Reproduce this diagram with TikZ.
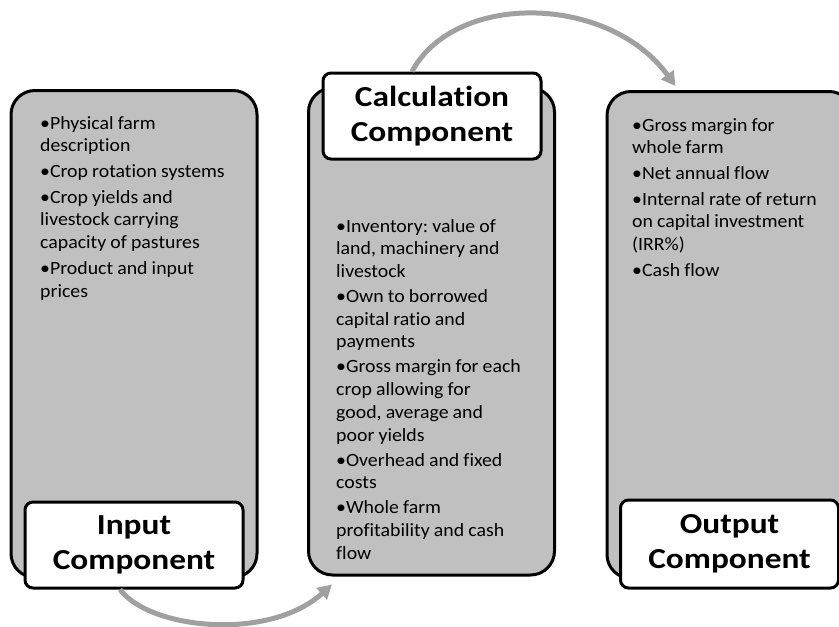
\documentclass[tikz,border=0pt]{standalone}
\usepackage{fontspec}
\setmainfont{Carlito}[FakeStretch=1.06, Ligatures=NoCommon]
\newfontfamily\titlefont{Carlito}[FakeStretch=1.15, Ligatures=NoCommon]
\usetikzlibrary{arrows.meta}
\frenchspacing
\definecolor{boxgray}{RGB}{192,192,192}
\definecolor{arrowgray}{RGB}{160,160,160}
\newlength{\bulw}
\newcommand{\itm}[1]{\settowidth{\bulw}{•}\hangindent=\bulw\hangafter=1 •#1\par}
\newcommand{\tightsp}[1]{\setlength{\parskip}{#1}\spaceskip=0.22em plus 0.1em minus 0.05em\relax}
\tikzset{
  bigbox/.style={draw=black, line width=3pt, fill=boxgray, rounded corners=24pt, minimum width=246pt, minimum height=487pt, inner sep=0pt},
  labbox/.style={draw=black, line width=3pt, fill=white, rounded corners=8pt, minimum width=218pt, minimum height=86pt, inner sep=0pt, align=center, font=\titlefont\fontsize{29}{35}\selectfont\bfseries},
  itemtext/.style={anchor=north west, inner sep=0pt, text width=225pt, align=left, font=\fontsize{18.7}{22.7}\selectfont},
  flow/.style={draw=arrowgray, line width=5pt, -{Triangle[length=14pt,width=15pt]}}
}
\begin{document}
\begin{tikzpicture}[x=1pt,y=-1pt]
\useasboundingbox (0,0) rectangle (839,627);
% big boxes
\node[bigbox] (inbox) at (134,334) {};
\node[bigbox] (calc) at (431.5,331.5) {};
\node[bigbox] (outbox) at (730,335) {};
% item texts
\node[itemtext] (intext) at (40,116) {\tightsp{3pt}%
\itm{Physical farm\\description}
\itm{Crop rotation systems}
\itm{Crop yields and\\livestock carrying\\capacity of pastures}
\itm{Product and input\\prices}};
\node[itemtext] (calctext) at (336,219) {\tightsp{2.3pt}%
\itm{Inventory: value of\\land, machinery and\\livestock}
\itm{Own to borrowed\\capital ratio and\\payments}
\itm{Gross margin for each\\crop allowing for\\good, average and\\poor yields}
\itm{Overhead and fixed\\costs}
\itm{Whole farm\\profitability and cash\\flow}};
\node[itemtext] (outtext) at (632,118) {\tightsp{3pt}%
\itm{Gross margin for\\whole farm}
\itm{Net annual flow}
\itm{Internal rate of return\\on capital investment\\(IRR\%)}
\itm{Cash flow}};
% label boxes
\node[labbox] (inlab) at (134,545) {Input\\Component};
\node[labbox] (clab) at (432,116) {Calculation\\Component};
\node[labbox, minimum height=88pt] (outlab) at (729.5,544) {Output\\Component};
% arrows
\draw[flow] ([xshift=-14pt]inlab.south) .. controls +(30,40) and +(-63,57) .. ([xshift=25pt,yshift=-8pt]calc.south west);
\draw[flow] ([xshift=-20pt]clab.north) .. controls +(43,-80) and +(-67,-92) .. ([xshift=70pt,yshift=4pt]outbox.north west);
\end{tikzpicture}
\end{document}
